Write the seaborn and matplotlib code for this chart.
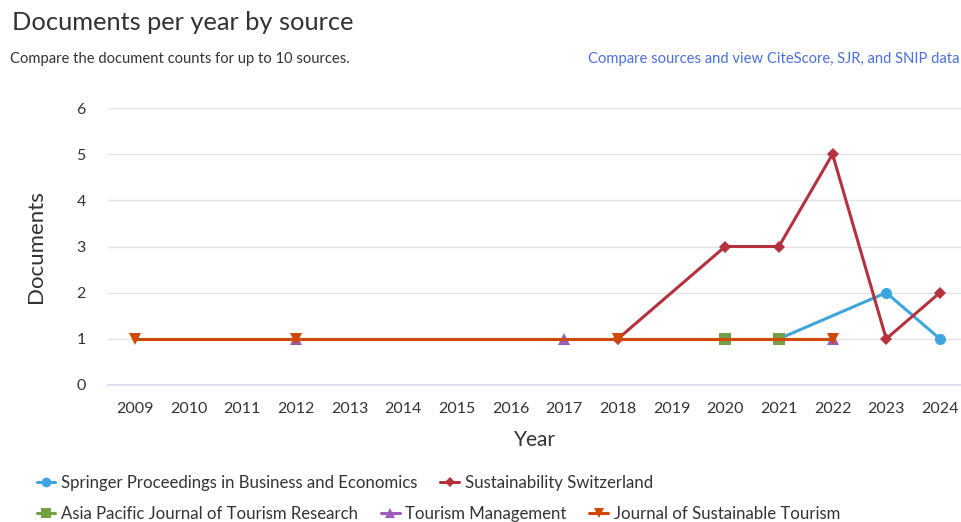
import matplotlib
matplotlib.use("Agg")
import matplotlib.pyplot as plt
from matplotlib.lines import Line2D
import seaborn as sns
import pandas as pd

years = list(range(2009, 2025))
sources = ["Springer Proceedings in Business and Economics", "Sustainability Switzerland",
           "Asia Pacific Journal of Tourism Research", "Tourism Management",
           "Journal of Sustainable Tourism"]
springer_years = [2021, 2023, 2024]
springer_vals = [1, 2, 1]
sust_years = [2018, 2020, 2021, 2022, 2023, 2024]
sust_vals = [1, 3, 3, 5, 1, 2]
apjtr_years = [2020, 2021]
apjtr_vals = [1, 1]
tm_years = [2012, 2017, 2022]
tm_vals = [1, 1, 1]
jst_years = [2009, 2012, 2018, 2022]
jst_vals = [1, 1, 1, 1]

colors = ["#3ea6dd", "#b3323e", "#74a046", "#9b5cbc", "#cf4a06"]
markers = ["o", "D", "s", "^", "v"]
msizes = [8, 6, 8, 8, 9]

rows = []
for name, ys, vs in zip(sources, [springer_years, sust_years, apjtr_years, tm_years, jst_years],
                        [springer_vals, sust_vals, apjtr_vals, tm_vals, jst_vals]):
    for y, v in zip(ys, vs):
        rows.append({"source": name, "year": y, "docs": v})
df = pd.DataFrame(rows)

sns.set_theme(style="white")
plt.rcParams['font.family'] = ['Lato', 'DejaVu Sans']

fig = plt.figure(figsize=(9.62, 5.22), dpi=100)
ax = fig.add_axes([108/962, 137/522, 1 - 108/962, 277/522])

for i, name in enumerate(sources):
    sub = df[df.source == name]
    sns.lineplot(data=sub, x="year", y="docs", ax=ax, color=colors[i], marker=markers[i],
                 markersize=msizes[i], markeredgewidth=0, linewidth=2.2, legend=False, zorder=3 + i)

ax.set_xlim(2008.5, 2008.5 + (962 - 108) / 53.67)
ax.set_ylim(0, 6)
ax.set_xticks(years)
ax.set_xticklabels([str(y) for y in years])
ax.set_yticks(range(0, 7))
ax.grid(axis="y", color="#e3e3e3", linewidth=1)
ax.grid(axis="x", visible=False)
for s in ["top", "right", "left"]:
    ax.spines[s].set_visible(False)
ax.spines["bottom"].set_color("#dde2f2")
ax.spines["bottom"].set_linewidth(1.5)
ax.tick_params(axis="both", length=0, labelsize=11.5, colors="#333333")
ax.tick_params(axis="x", pad=12)
ax.tick_params(axis="y", pad=16)
ax.set_xlabel("Year", fontsize=15, color="#333333", labelpad=10)
ax.set_ylabel("Documents", fontsize=16, color="#333333", labelpad=22)

fig.text(12/962, 1 - 22/522, "Documents per year by source", fontsize=18.3, color="#323232", va="center", ha="left")
fig.text(10/962, 1 - 59/522, "Compare the document counts for up to 10 sources.", fontsize=10.6, color="#333333", va="center", ha="left")
fig.text(960/962, 1 - 59/522, "Compare sources and view CiteScore, SJR, and SNIP data", fontsize=10.6, color="#4a6fe0", va="center", ha="right")

handles = [Line2D([0], [0], color=c, marker=m, markersize=7 if m != "D" else 5, linewidth=2.2, markeredgewidth=0)
           for c, m in zip(colors, markers)]
kw = dict(frameon=False, fontsize=12.1, handlelength=1.1, handletextpad=0.35, columnspacing=1.35, borderaxespad=0, borderpad=0)
fig.legend(handles[:2], sources[:2], ncol=2, loc="center left", bbox_to_anchor=(37/962, 1 - 483/522), **kw)
fig.legend(handles[2:], sources[2:], ncol=3, loc="center left", bbox_to_anchor=(37/962, 1 - 514/522), **kw)
for leg in fig.legends:
    for t in leg.get_texts():
        t.set_color("#333333")

fig.savefig("out.png", dpi=100)
